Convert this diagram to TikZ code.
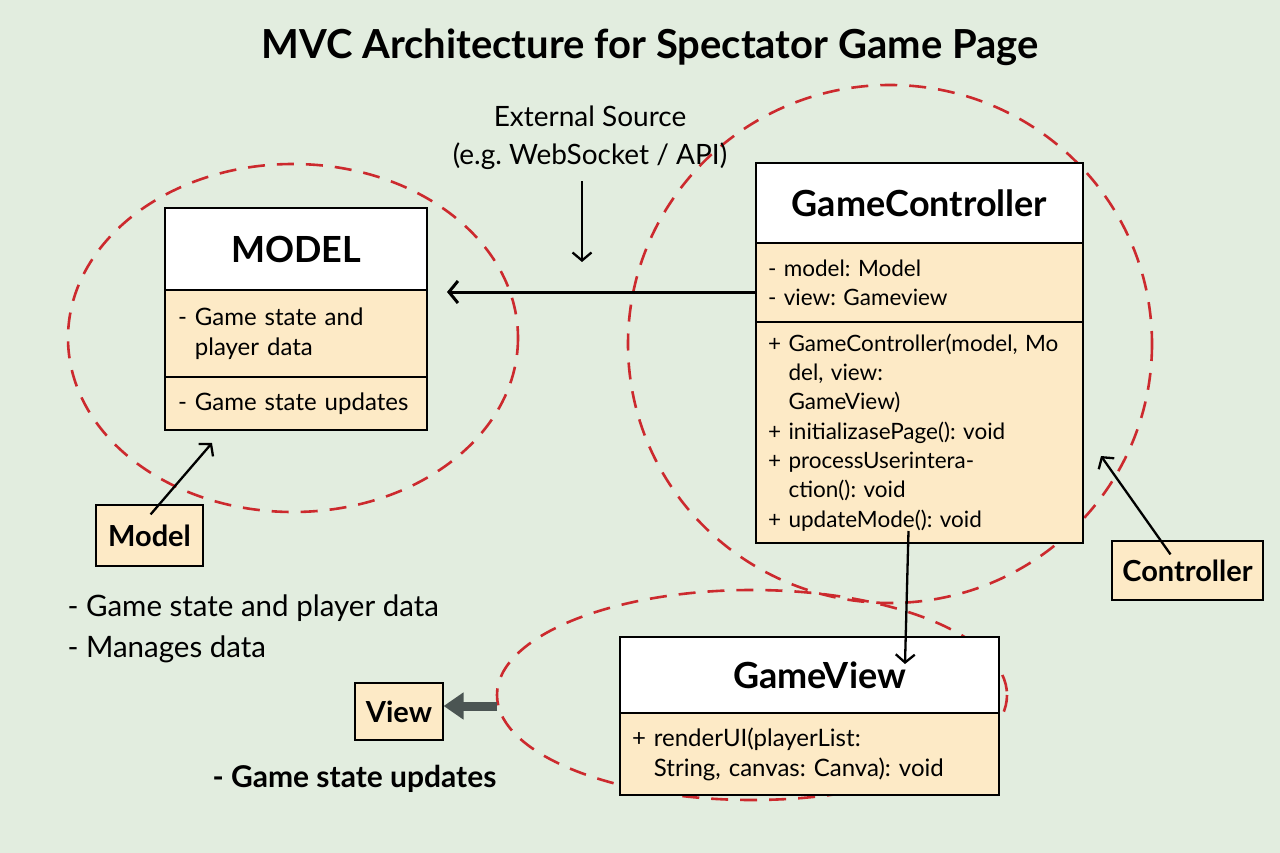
\documentclass[tikz,border=0pt]{standalone}
\usepackage{fontspec}
\setmainfont{Lato}
\usepackage{tikz}
\usetikzlibrary{arrows.meta,positioning}
\frenchspacing
\definecolor{bgmint}{HTML}{E2EDDF}
\definecolor{cream}{HTML}{FDEAC6}
\definecolor{zonered}{HTML}{CC2A2E}
\definecolor{arrowgray}{HTML}{4B5553}
\tikzset {
	classhead/.style={rectangle, draw, fill=white, line width=1.4pt, outer sep=0pt, font=\fontsize{36}{40}\selectfont\bfseries},
	classpart/.style={rectangle, draw, fill=cream, line width=1.4pt, outer sep=0pt, anchor=north, align=left, inner xsep=13pt},
	tagbox/.style={rectangle, draw, fill=cream, line width=1.2pt, font=\fontsize{29}{32}\selectfont\bfseries},
	zone/.style={draw=zonered, line width=2.6pt, dash pattern=on 17pt off 12pt},
	link/.style={draw, line width=3pt, -{Straight Barb[length=9pt,width=22pt]}},
	thinlink/.style={draw, line width=2.3pt, -{Straight Barb[length=8pt,width=19pt]}},
	note/.style={anchor=west, font=\fontsize{29.5}{32}\selectfont}
}
\begin{document}
\begin{tikzpicture}[x=1pt, y=-1pt]
	\fill[bgmint] (0,0) rectangle (1280,853);
	\useasboundingbox (0,0) rectangle (1280,853);

	\node[font=\fontsize{40}{44}\selectfont\bfseries] (title) at (650,47) {MVC Architecture for Spectator Game Page};

	% dashed zones
	\draw[zone] (293,338) ellipse [x radius=225, y radius=174];
	\draw[zone] (890,344) ellipse [x radius=262, y radius=259];
	\draw[zone] (752,695) ellipse [x radius=255, y radius=105];

	% Model class
	\node[classhead, minimum width=262pt, minimum height=82pt, anchor=north west] (modelhead) at (165,208) {MODEL};
	\node[classpart, below=0pt of modelhead, text width=236pt, minimum height=87pt, font=\fontsize{24}{30}\selectfont] (modelattr)
		{- Game state and\\\phantom{- }player data};
	\node[classpart, below=0pt of modelattr, text width=236pt, minimum height=53pt, font=\fontsize{24}{30}\selectfont] (modelops)
		{- Game state updates};

	% Controller class
	\node[classhead, minimum width=327pt, minimum height=80pt, anchor=north west] (ctrlhead) at (756,163) {GameController};
	\node[classpart, below=0pt of ctrlhead, text width=303pt, minimum height=79pt, inner xsep=12pt, font=\fontsize{22.5}{29}\selectfont] (ctrlattr)
		{- model: Model\\- view: Gameview};
	\node[classpart, below=0pt of ctrlattr, text width=303pt, minimum height=221pt, inner xsep=12pt, font=\fontsize{22.5}{29.3}\selectfont] (ctrlops)
		{+ GameController(model, Mo\\\phantom{+ }del, view:\\\phantom{+ }GameView)\\+ initializasePage(): void\\+ processUserintera-\\\phantom{+ }ction(): void\\+ updateMode(): void};

	% View class
	\node[classhead, minimum width=379pt, minimum height=76pt, anchor=north west] (viewhead) at (620,637) {\hspace{20pt}GameView};
	\node[classpart, below=0pt of viewhead, text width=355pt, minimum height=82pt, inner xsep=12pt, font=\fontsize{24}{30}\selectfont] (viewops)
		{+ renderUI(playerList:\\\phantom{+ }String, canvas: Canva): void};

	% role tags
	\node[tagbox, minimum width=107pt, minimum height=61pt] (modeltag) at (149.5,535.5) {Model};
	\node[tagbox, minimum width=88pt, minimum height=57pt] (viewtag) at (399,711.5) {View};
	\node[tagbox, minimum width=151pt, minimum height=59pt] (ctrltag) at (1187.5,570.5) {Controller};

	\node[note] (modelnote) at (64,608) {- Game state and player data};
	\node[note] (modelnote2) at (64,649) {- Manages data};
	\node[note, font=\fontsize{30}{32}\selectfont\bfseries] (viewnote) at (209,779) {- Game state updates};

	\node[align=center, font=\fontsize{28}{38}\selectfont] (extsrc) at (590,138) {External Source\\(e.g. WebSocket / API)};

	% connectors
	\coordinate (modeltip) at (447,292);
	\coordinate (exttip) at (582,262);
	\coordinate (modelpoint) at (212,443);
	\coordinate (ctrlpoint) at (1101,456);
	\coordinate (viewtip) at (905,664);
	\draw[link] (ctrlattr.west |- modeltip) -- (modeltip);
	\draw[thinlink] ([yshift=-8pt]exttip |- extsrc.south) -- (exttip);
	\draw[thinlink] ([xshift=-53pt,yshift=-10pt]modeltag.north east) -- (modelpoint);
	\draw[thinlink] ([xshift=-17pt,yshift=-14pt]ctrltag.north) -- (ctrlpoint);
	\draw[thinlink] ([xshift=-11pt,yshift=12pt]ctrlops.south) -- (viewtip);
	\draw[arrowgray, line width=9pt, -{Triangle[length=20pt,width=26pt]}] (497,706) -- (viewtag.east |- 0,706);
\end{tikzpicture}
\end{document}
